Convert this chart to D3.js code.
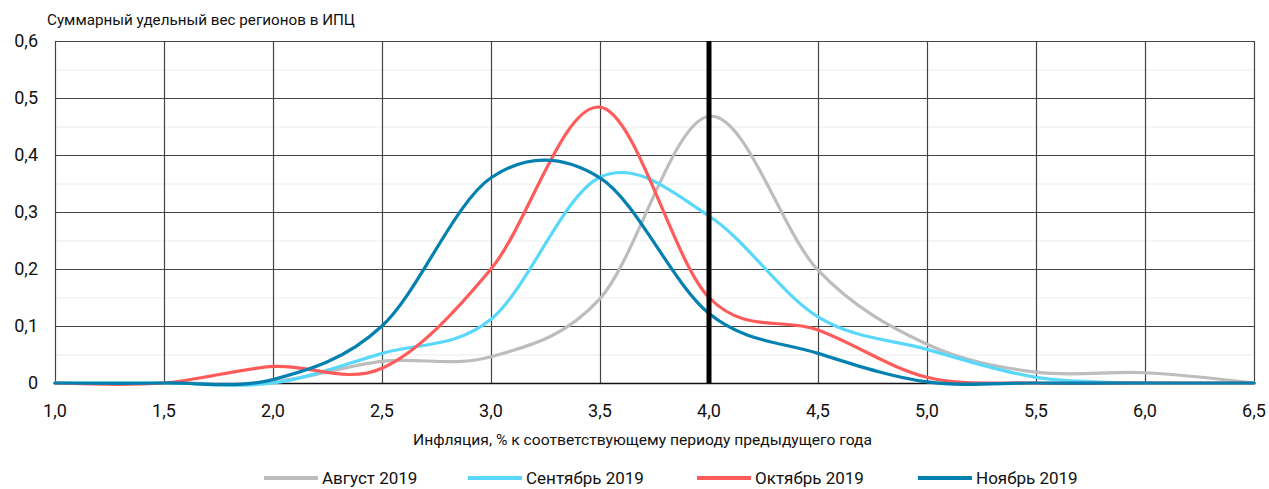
<!DOCTYPE html>
<html><head><meta charset="utf-8">
<script src="https://cdn.jsdelivr.net/npm/d3@7"></script>
<style>
html,body{margin:0;padding:0;background:#fff;}
text{font-family:Roboto, "Noto Sans", sans-serif;fill:#111;}
</style></head>
<body><svg id="chart" width="1269" height="489"></svg>
<script>
const xValues = [1.0,1.5,2.0,2.5,3.0,3.5,4.0,4.5,5.0,5.5,6.0,6.5];
const seriesNames = ["Август 2019","Сентябрь 2019","Октябрь 2019","Ноябрь 2019"];
const august    = [0,0,0.002,0.038,0.046,0.148,0.468,0.198,0.068,0.019,0.018,0];
const september = [0,0,0,0.052,0.112,0.361,0.293,0.116,0.059,0.010,0,0];
const october   = [0,0,0.029,0.026,0.200,0.484,0.150,0.093,0.010,0,0,0];
const november  = [0,0,0.006,0.100,0.360,0.360,0.122,0.052,0.002,0,0,0];
const seriesColors = ["#bdbdbd","#59d8fb","#ff5b5b","#0281b0"];
const xTicks = [1.0,1.5,2.0,2.5,3.0,3.5,4.0,4.5,5.0,5.5,6.0,6.5];
const yTicks = [0,0.1,0.2,0.3,0.4,0.5,0.6];
const yMinor = [0.05,0.15,0.25,0.35,0.45,0.55];
const targetLine = 4.0;
const yTitle = "Суммарный удельный вес регионов в ИПЦ";
const xTitle = "Инфляция, % к соответствующему периоду предыдущего года";

const svg = d3.select("#chart");
const m = {left:55, right:1254, top:41, bottom:383};
const x = d3.scaleLinear().domain([1.0,6.5]).range([m.left,m.right]);
const y = d3.scaleLinear().domain([0,0.6]).range([m.bottom,m.top]);
const fmt = v => (v===0 ? "0" : d3.format(".1f")(v).replace(".",","));

// minor grid
svg.append("g").selectAll("line").data(yMinor).join("line")
  .attr("x1",m.left).attr("x2",m.right)
  .attr("y1",d=>y(d)+0.5).attr("y2",d=>y(d)+0.5)
  .attr("stroke","#ececec").attr("stroke-width",1);
// major grid horizontal
svg.append("g").selectAll("line").data(yTicks.filter(d=>d>0)).join("line")
  .attr("x1",m.left).attr("x2",m.right)
  .attr("y1",d=>Math.round(y(d))+0.5).attr("y2",d=>Math.round(y(d))+0.5)
  .attr("stroke","#444").attr("stroke-width",1.2);
// vertical grid
svg.append("g").selectAll("line").data(xTicks).join("line")
  .attr("x1",d=>Math.round(x(d))+0.5).attr("x2",d=>Math.round(x(d))+0.5)
  .attr("y1",m.top).attr("y2",m.bottom)
  .attr("stroke","#444").attr("stroke-width",1.2);
// x axis baseline
svg.append("line").attr("x1",m.left).attr("x2",m.right)
  .attr("y1",m.bottom+0.5).attr("y2",m.bottom+0.5)
  .attr("stroke","#111").attr("stroke-width",1.5);

// y tick labels
svg.append("g").selectAll("text").data(yTicks).join("text")
  .attr("x",38).attr("y",d=>y(d)).attr("dy","0.35em")
  .attr("text-anchor","end").attr("font-size",18).text(fmt);
// x tick labels
svg.append("g").selectAll("text").data(xTicks).join("text")
  .attr("x",d=>x(d)).attr("y",417)
  .attr("text-anchor","middle").attr("font-size",18).text(fmt);

// titles
svg.append("text").attr("x",47).attr("y",25).attr("font-size",15)
  .attr("textLength",308).attr("lengthAdjust","spacingAndGlyphs").text(yTitle);
svg.append("text").attr("x",413).attr("y",445).attr("font-size",15)
  .attr("textLength",459).attr("lengthAdjust","spacingAndGlyphs").text(xTitle);

// lines
const allSeries = [august,september,october,november];
const line = d3.line().x(d=>x(d[0])).y(d=>y(d[1])).curve(d3.curveCardinal.tension(0));
allSeries.forEach((vals,i)=>{
  svg.append("path").datum(xValues.map((xv,j)=>[xv,vals[j]]))
    .attr("d",line).attr("fill","none")
    .attr("stroke",seriesColors[i]).attr("stroke-width",3.2)
    .attr("stroke-linejoin","round").attr("stroke-linecap","round");
});

// target vertical line
svg.append("line").attr("x1",x(targetLine)).attr("x2",x(targetLine))
  .attr("y1",m.top).attr("y2",m.bottom)
  .attr("stroke","#000").attr("stroke-width",5);

// legend
const legendX = [264,468,697,918];
const lg = svg.append("g");
seriesNames.forEach((name,i)=>{
  lg.append("line").attr("x1",legendX[i]).attr("x2",legendX[i]+54)
    .attr("y1",478).attr("y2",478)
    .attr("stroke",seriesColors[i]).attr("stroke-width",4);
  lg.append("text").attr("x",legendX[i]+58).attr("y",478).attr("dy","0.35em")
    .attr("font-size",17).text(name);
});
</script></body></html>
